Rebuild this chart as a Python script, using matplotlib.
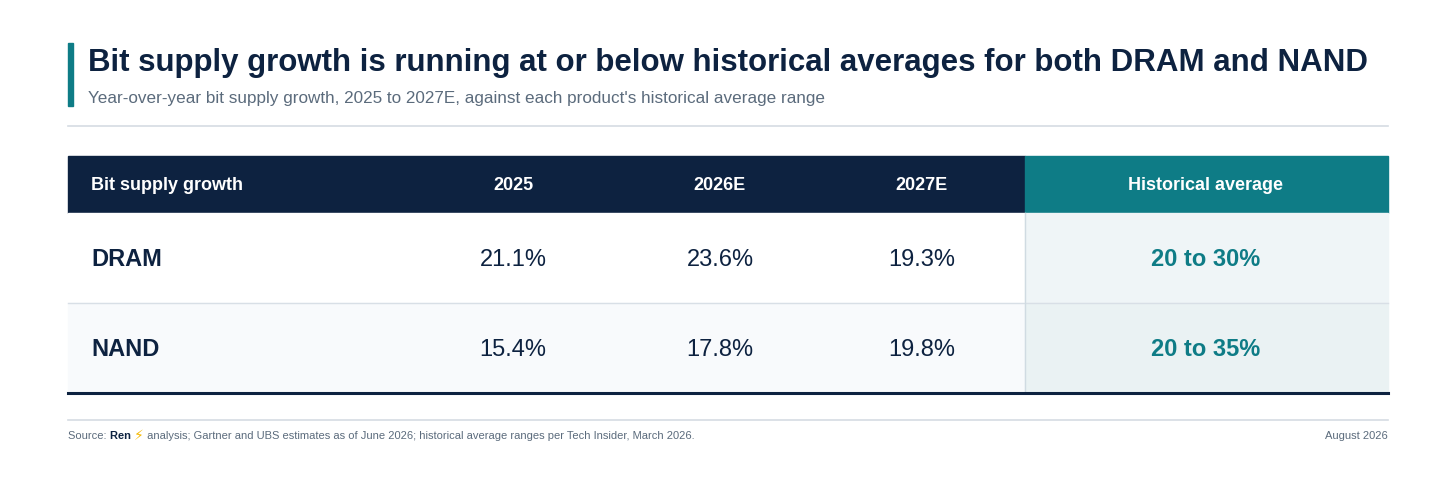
import matplotlib
matplotlib.use("Agg")
import matplotlib.pyplot as plt
from matplotlib.patches import Rectangle

title = "Bit supply growth is running at or below historical averages for both DRAM and NAND"
subtitle = "Year-over-year bit supply growth, 2025 to 2027E, against each product's historical average range"
columns = ["Bit supply growth", "2025", "2026E", "2027E", "Historical average"]
products = ["DRAM", "NAND"]
values = [["21.1%", "23.6%", "19.3%"], ["15.4%", "17.8%", "19.8%"]]
hist = ["20 to 30%", "20 to 35%"]

NAVY = "#0d2240"; TEAL = "#0e7c86"; GRAY = "#5b6b7c"
FAM = ["Liberation Sans", "DejaVu Sans"]
plt.rcParams['font.family'] = FAM

fig = plt.figure(figsize=(14.56, 4.79), dpi=100)
ax = fig.add_axes([0, 0, 1, 1])
ax.set_xlim(0, 1456); ax.set_ylim(479, 0); ax.axis("off")

ax.add_patch(Rectangle((68, 43), 5, 63, color=TEAL))
ax.text(88, 63, title, fontsize=22.5, fontweight="bold", color=NAVY, va="center")
ax.text(88, 98, subtitle, fontsize=12.3, color=GRAY, va="center")
ax.plot([68, 1388], [126, 126], color="#d5dce3", lw=1.2)

L, R, HX = 68, 1388, 1025
ax.add_patch(Rectangle((L, 156), HX - L, 57, color=NAVY))
ax.add_patch(Rectangle((HX, 156), R - HX, 57, color=TEAL))
rows = [(213, 303, "#ffffff", "#eff5f7"), (303, 393, "#f8fafc", "#eaf2f3")]
for y0, y1, bg, hb in rows:
    ax.add_patch(Rectangle((L, y0), HX - L, y1 - y0, color=bg))
    ax.add_patch(Rectangle((HX, y0), R - HX, y1 - y0, color=hb))
ax.plot([L, R], [303, 303], color="#d8dfe6", lw=1)
ax.plot([HX, HX], [213, 393], color="#d0dbe2", lw=1)
ax.plot([L, R], [393, 393], color=NAVY, lw=2.2)

cx = [91, 513, 720, 922, 1206]
for i, c in enumerate(columns):
    ax.text(cx[i], 185.5, c, fontsize=13, fontweight="bold", color="white",
            va="center", ha="left" if i == 0 else "center")
for r, (p, vals, h) in enumerate(zip(products, values, hist)):
    y = 259.5 + 90 * r
    ax.text(cx[0], y, p, fontsize=17, fontweight="bold", color=NAVY, va="center")
    for j, v in enumerate(vals):
        ax.text(cx[j + 1], y, v, fontsize=17, color=NAVY, va="center", ha="center")
    ax.text(cx[4], y, h, fontsize=17, fontweight="bold", color=TEAL, va="center", ha="center")

ax.plot([L, R], [420, 420], color="#d5dce3", lw=1.2)
fig.canvas.draw()
r_ = fig.canvas.get_renderer()
x = 68
for s, kw, fs in [("Source: ", dict(color=GRAY), 8), ("Ren ", dict(color=NAVY, fontweight="bold"), 8),
              ("\u26a1", dict(color="#f5b800"), 10),
              (" analysis; Gartner and UBS estimates as of June 2026; historical average ranges per Tech Insider, March 2026.", dict(color=GRAY), 8)]:
    t = ax.text(x, 436, s, fontsize=fs, va="center", **kw)
    bb = t.get_window_extent(r_)
    x += bb.width
ax.text(R, 436, "August 2026", fontsize=8, color=GRAY, va="center", ha="right")
fig.savefig("out.png", dpi=100)
